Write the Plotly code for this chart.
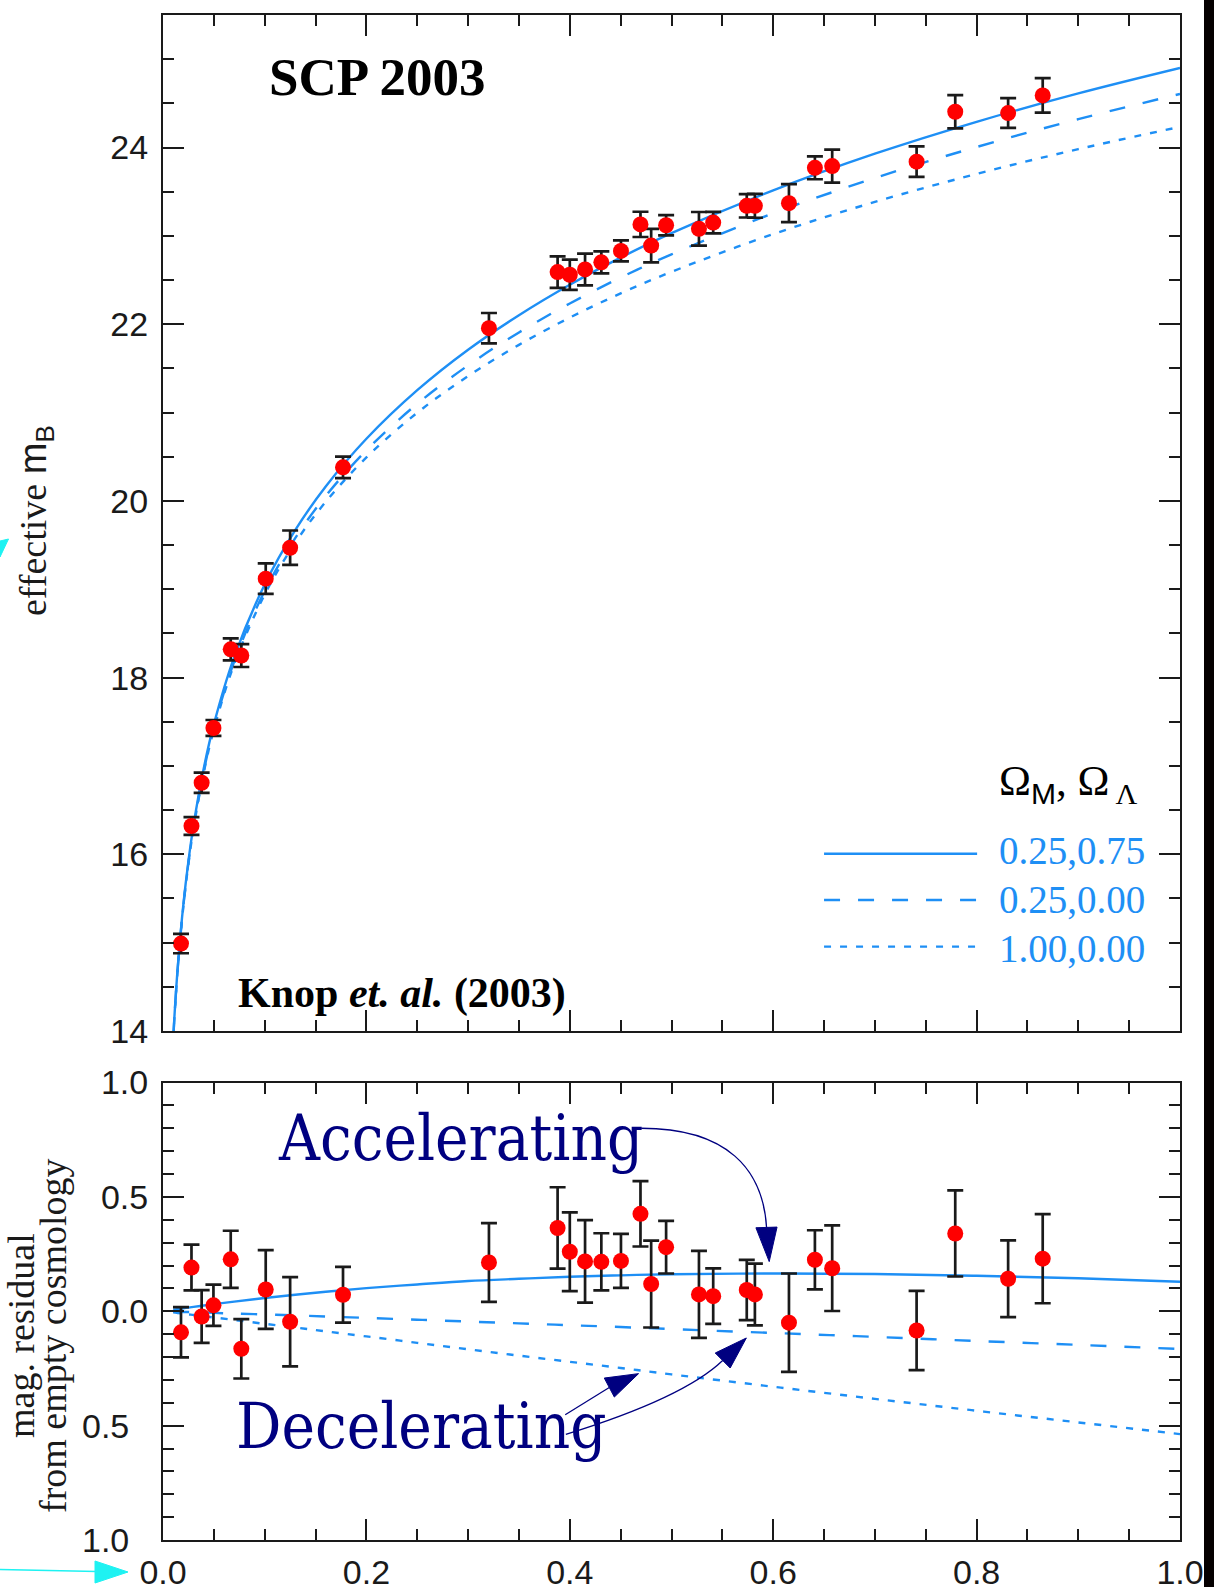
import plotly.graph_objects as go

# ---------------- data ----------------
# supernova redshifts
z_sn = [0.0177, 0.028, 0.038, 0.0496, 0.0666, 0.077, 0.101, 0.125, 0.177, 0.3205,
        0.388, 0.400, 0.415, 0.431, 0.4503, 0.4695, 0.480, 0.4947, 0.527, 0.541,
        0.574, 0.582, 0.6155, 0.641, 0.658, 0.741, 0.779, 0.831, 0.865]
# effective B magnitude (top panel)
mB_eff = [14.99, 16.32, 16.81, 17.43, 18.32, 18.25, 19.12, 19.47, 20.38, 21.955,
          22.59, 22.56, 22.62, 22.70, 22.83, 23.13, 22.89, 23.12, 23.08, 23.15,
          23.34, 23.34, 23.37, 23.77, 23.79, 23.84, 24.405, 24.39, 24.59]
# magnitude uncertainty
mag_err = [0.11, 0.10, 0.115, 0.09, 0.125, 0.13, 0.172, 0.195, 0.122, 0.172,
           0.178, 0.172, 0.18, 0.125, 0.118, 0.143, 0.19, 0.115, 0.19, 0.121,
           0.132, 0.135, 0.215, 0.129, 0.187, 0.173, 0.188, 0.168, 0.195]
# residual from empty cosmology (bottom panel)
resid = [-0.092, 0.191, -0.023, 0.026, 0.227, -0.164, 0.095, -0.046, 0.072, 0.213,
         0.364, 0.260, 0.218, 0.216, 0.220, 0.426, 0.119, 0.280, 0.0735, 0.066,
         0.093, 0.0735, -0.05, 0.225, 0.188, -0.084, 0.34, 0.142, 0.23]

# model curves, sampled along redshift
z_model = [0.010, 0.012, 0.015, 0.020, 0.025, 0.030, 0.040, 0.050, 0.070, 0.100,
           0.130, 0.160, 0.200, 0.250, 0.300, 0.350, 0.400, 0.450, 0.500, 0.600,
           0.700, 0.800, 0.900, 1.000]
m_flat_L = [13.908, 14.307, 14.796, 15.430, 15.923, 16.327, 16.968, 17.470, 18.232, 19.054,
            19.669, 20.163, 20.703, 21.253, 21.711, 22.102, 22.447, 22.754, 23.031, 23.515,
            23.930, 24.291, 24.612, 24.900]
m_open = [13.900, 14.297, 14.784, 15.414, 15.904, 16.304, 16.938, 17.432, 18.180, 18.982,
          19.579, 20.055, 20.573, 21.099, 21.534, 21.907, 22.235, 22.528, 22.791, 23.255,
          23.655, 24.006, 24.321, 24.606]
m_eds = [13.896, 14.293, 14.778, 15.406, 15.893, 16.292, 16.921, 17.412, 18.152, 18.941,
         19.526, 19.990, 20.492, 20.998, 21.413, 21.766, 22.075, 22.349, 22.593, 23.020,
         23.384, 23.701, 23.982, 24.234]
r_flat_L = [0.007, 0.008, 0.010, 0.013, 0.016, 0.019, 0.025, 0.031, 0.042, 0.058,
            0.072, 0.085, 0.101, 0.117, 0.132, 0.142, 0.151, 0.157, 0.162, 0.165,
            0.163, 0.155, 0.144, 0.129]
r_open = [-0.001, -0.002, -0.002, -0.003, -0.003, -0.004, -0.005, -0.007, -0.010, -0.014,
          -0.018, -0.023, -0.029, -0.037, -0.045, -0.053, -0.061, -0.069, -0.078, -0.095,
          -0.112, -0.130, -0.147, -0.165]
r_eds = [-0.005, -0.006, -0.008, -0.011, -0.014, -0.016, -0.022, -0.027, -0.038, -0.055,
         -0.071, -0.088, -0.110, -0.138, -0.166, -0.194, -0.221, -0.248, -0.276, -0.330,
         -0.383, -0.435, -0.486, -0.537]

legend_labels = ["0.25,0.75", "0.25,0.00", "1.00,0.00"]
x_ticks = [0.0, 0.2, 0.4, 0.6, 0.8, 1.0]
x_ticktext = ["0.0", "0.2", "0.4", "0.6", "0.8", "1.0"]
y_top_ticks = [14, 16, 18, 20, 22, 24]
y_bot_ticks = [-1.0, -0.5, 0.0, 0.5, 1.0]
y_bot_ticktext = ["1.0\u00a0\u00a0", "0.5\u00a0\u00a0", "0.0", "0.5", "1.0"]

# ---------------- styling ----------------
W, H = 1214, 1587
ML, MR, MT, MB = 163, 34, 15, 47
PW, PH = W - ML - MR, H - MT - MB

def fx(px):
    return (px - ML) / PW

def fy(py):
    return (H - MB - py) / PH

BLUE = "#1e8ff5"
NAVY = "#000080"
INK = "#1a1a1a"
DARK = "#050000"
SERIF = "Liberation Serif, Times New Roman, serif"
SANS = "Liberation Sans, Arial, sans-serif"
DASH = "16px,18px"
DOT = "7px,9px"

fig = go.Figure()

styles = [(m_eds, r_eds, DOT), (m_open, r_open, DASH), (m_flat_L, r_flat_L, "solid")]
for m_curve, r_curve, dash in styles:
    fig.add_trace(go.Scatter(x=z_model, y=m_curve, mode="lines",
                             line=dict(color=BLUE, width=2.4, dash=dash, shape="spline"),
                             xaxis="x", yaxis="y", hoverinfo="skip"))
    fig.add_trace(go.Scatter(x=z_model, y=r_curve, mode="lines",
                             line=dict(color=BLUE, width=2.4, dash=dash, shape="spline"),
                             xaxis="x2", yaxis="y2", hoverinfo="skip"))

err = dict(type="data", array=mag_err, visible=True, color=INK, thickness=2.7, width=8)
fig.add_trace(go.Scatter(x=z_sn, y=mB_eff, mode="markers",
                         marker=dict(color="#ff0000", size=16, line=dict(width=0)),
                         error_y=err, xaxis="x", yaxis="y"))
fig.add_trace(go.Scatter(x=z_sn, y=resid, mode="markers",
                         marker=dict(color="#ff0000", size=16, line=dict(width=0)),
                         error_y=err, xaxis="x2", yaxis="y2"))

axis_common = dict(showline=True, linecolor=INK, linewidth=2, mirror="allticks",
                   ticks="inside", ticklen=21, tickwidth=2, tickcolor=INK,
                   showgrid=False, zeroline=False, automargin=False,
                   tickfont=dict(family=SANS, size=34, color=INK))

def minor(dt):
    return dict(ticks="inside", ticklen=11, tickwidth=2, tickcolor=INK,
                tickmode="linear", tick0=0, dtick=dt, showgrid=False)

top_bottom_edge = (H - MB - 1031) / PH
bot_top_edge = (H - MB - 1082.5) / PH

fig.update_layout(
    width=W, height=H,
    margin=dict(l=ML, r=MR, t=MT, b=MB, pad=0),
    paper_bgcolor=DARK, plot_bgcolor="white",
    showlegend=False, hovermode=False,
    xaxis=dict(axis_common, range=[0, 1], anchor="y", tickmode="array", tickvals=x_ticks,
               showticklabels=False, minor=minor(0.05)),
    yaxis=dict(axis_common, range=[14, 25.5], anchor="x", domain=[top_bottom_edge, 1],
               tickmode="array", tickvals=y_top_ticks, ticklabelstandoff=6, minor=minor(0.5)),
    xaxis2=dict(axis_common, range=[0, 1], anchor="y2", tickmode="array", tickvals=x_ticks,
                ticktext=x_ticktext, ticklabelstandoff=1, minor=minor(0.05)),
    yaxis2=dict(axis_common, range=[-1, 1], anchor="x2", domain=[0, bot_top_edge],
                tickmode="array", tickvals=y_bot_ticks, ticktext=y_bot_ticktext,
                ticklabelstandoff=6, minor=minor(0.1)),
)

ann = []
# panel labels
ann.append(dict(x=0.1023, y=24.80, xref="x", yref="y", xanchor="left", yanchor="middle",
                text="<b>SCP 2003</b>", showarrow=False,
                font=dict(family=SERIF, size=53, color="black")))
ann.append(dict(x=0.0721, y=14.43, xref="x", yref="y", xanchor="left", yanchor="middle",
                text="<b>Knop <i>et. al.</i> (2003)</b>", showarrow=False,
                font=dict(family=SERIF, size=42, color="black")))
# legend header and entries
ann.append(dict(x=0.8201, y=16.80, xref="x", yref="y", xanchor="left", yanchor="middle",
                text='\u03a9<sub><span style="font-family:Liberation Sans, Arial">M</span></sub>, '
                     '\u03a9<sub>\u2009\u039b</sub>',
                showarrow=False, font=dict(family=SERIF, size=43, color="black")))
legend_y_text = [16.043, 15.488, 14.929]
legend_y_line = [16.007, 15.482, 14.955]
legend_dash = ["solid", DASH, DOT]
shapes = []
# white slide area; the strip to its right keeps the dark paper colour
shapes.append(dict(type="rect", xref="paper", yref="paper", layer="below",
                   x0=fx(-20), x1=fx(1204), y0=fy(1610), y1=fy(-20),
                   line=dict(width=0), fillcolor="white"))
for lab, yt, yl, d in zip(legend_labels, legend_y_text, legend_y_line, legend_dash):
    ann.append(dict(x=0.8201, y=yt, xref="x", yref="y", xanchor="left", yanchor="middle",
                    text=lab, showarrow=False,
                    font=dict(family=SERIF, size=39, color=BLUE)))
    shapes.append(dict(type="line", xref="x", yref="y", x0=0.650, x1=0.8005, y0=yl, y1=yl,
                       line=dict(color=BLUE, width=2.4, dash=d)))

# axis titles
ann.append(dict(x=fx(36), y=fy(521), xref="paper", yref="paper", xanchor="center",
                yanchor="middle", textangle=-90, showarrow=False,
                text='effective <span style="font-family:Liberation Sans, Arial">m<sub>B</sub></span>',
                font=dict(family=SERIF, size=38, color=INK)))
ann.append(dict(x=fx(21), y=fy(1336), xref="paper", yref="paper", xanchor="center",
                yanchor="middle", textangle=-90, showarrow=False, text="mag. residual",
                font=dict(family=SERIF, size=38, color=INK)))
ann.append(dict(x=fx(53), y=fy(1336), xref="paper", yref="paper", xanchor="center",
                yanchor="middle", textangle=-90, showarrow=False, text="from empty cosmology",
                font=dict(family=SERIF, size=38, color=INK)))

# Accelerating / Decelerating
BIG = "DejaVu Serif Condensed, DejaVu Serif, serif"
ann.append(dict(x=0.1109, y=0.757, xref="x2", yref="y2", xanchor="left", yanchor="middle",
                text="Accelerating", showarrow=False,
                font=dict(family=BIG, size=63, color=NAVY)))
ann.append(dict(x=0.0696, y=-0.503, xref="x2", yref="y2", xanchor="left", yanchor="middle",
                text="Decelerating", showarrow=False,
                font=dict(family=BIG, size=63, color=NAVY)))

# curved arrows
arrow_line = dict(color=NAVY, width=1.3)
shapes.append(dict(type="path", xref="x2", yref="y2", layer="above",
                   path="M 0.4702,0.800 C 0.555,0.800 0.590,0.62 0.5935,0.365",
                   line=arrow_line))
shapes.append(dict(type="path", xref="x2", yref="y2", layer="above",
                   path="M 0.5830,0.365 L 0.6038,0.368 L 0.5961,0.217 Z",
                   line=dict(color=NAVY, width=1), fillcolor=NAVY))
shapes.append(dict(type="path", xref="x2", yref="y2", layer="above",
                   path="M 0.3955,-0.4522 L 0.4388,-0.3335", line=arrow_line))
shapes.append(dict(type="path", xref="x2", yref="y2", layer="above",
                   path="M 0.4339,-0.2920 L 0.4438,-0.3751 L 0.4676,-0.2727 Z",
                   line=dict(color=NAVY, width=1), fillcolor=NAVY))
shapes.append(dict(type="path", xref="x2", yref="y2", layer="above",
                   path="M 0.3961,-0.5383 Q 0.5121,-0.3786 0.5503,-0.2153", line=arrow_line))
shapes.append(dict(type="path", xref="x2", yref="y2", layer="above",
                   path="M 0.5430,-0.1825 L 0.5577,-0.2481 L 0.5736,-0.1168 Z",
                   line=dict(color=NAVY, width=1), fillcolor=NAVY))

# slide decorations: cyan pointers
CYAN = "#1ef2f2"
shapes.append(dict(type="line", xref="paper", yref="paper",
                   x0=fx(0), y0=fy(1569.5), x1=fx(97), y1=fy(1571.5),
                   line=dict(color=CYAN, width=1.5)))
shapes.append(dict(type="path", xref="paper", yref="paper",
                   path=f"M {fx(95)},{fy(1561)} L {fx(128)},{fy(1572)} L {fx(95)},{fy(1583)} Z",
                   line=dict(color=CYAN, width=1), fillcolor=CYAN))
shapes.append(dict(type="path", xref="paper", yref="paper",
                   path=f"M {fx(0)},{fy(541)} L {fx(8.5)},{fy(539)} L {fx(0)},{fy(557)} Z",
                   line=dict(color=CYAN, width=1), fillcolor=CYAN))

fig.update_layout(annotations=ann, shapes=shapes)

fig.write_html("out.html", config={"displayModeBar": False},
               post_script="document.body.style.margin='0';document.body.style.overflow='hidden';"
                           "document.body.style.background='#050000';")
